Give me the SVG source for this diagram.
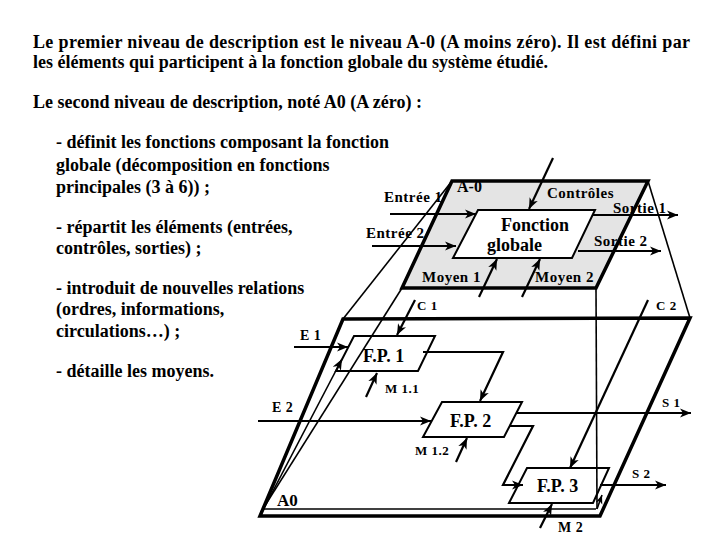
<svg xmlns="http://www.w3.org/2000/svg" width="720" height="540" viewBox="0 0 720 540">
<style>
.t{font-family:"Liberation Serif","Times New Roman",serif;font-weight:bold;fill:#000}
.p{font-size:18px}
.b{font-size:18px}
.l{font-size:15px;letter-spacing:0.5px}
.s{font-size:13px;letter-spacing:0.5px}
.c{fill:none;stroke:#000;stroke-width:2.2}
.thin{fill:none;stroke:#000;stroke-width:1.6}
.thick{stroke:#000;stroke-width:3.5;stroke-linejoin:miter}
</style>
<defs>
<marker id="ar" markerUnits="userSpaceOnUse" markerWidth="12" markerHeight="10" refX="11" refY="5" orient="auto">
<path d="M0,0.5 L11,5 L0,9.5 L3,5 z" fill="#000"/>
</marker>
<marker id="ars" markerUnits="userSpaceOnUse" markerWidth="10" markerHeight="8" refX="9" refY="4" orient="auto">
<path d="M0,0.5 L9,4 L0,7.5 L2.5,4 z" fill="#000"/>
</marker>
</defs>
<rect width="720" height="540" fill="#fff"/>
<g id="texte">
<text class="t p" x="33" y="48" textLength="657" lengthAdjust="spacing">Le premier niveau de description est le niveau A-0 (A moins zéro). Il est défini par</text>
<text class="t p" x="33" y="68" textLength="515" lengthAdjust="spacing">les éléments qui participent à la fonction globale du système étudié.</text>
<text class="t p" x="33" y="108" textLength="389" lengthAdjust="spacing">Le second niveau de description, noté A0 (A zéro) :</text>
<text class="t b" x="56" y="148">- définit les fonctions composant la fonction</text>
<text class="t b" x="56" y="171">globale (décomposition en fonctions</text>
<text class="t b" x="56" y="193">principales (3 à 6)) ;</text>
<text class="t b" x="56" y="233">- répartit les éléments (entrées,</text>
<text class="t b" x="56" y="254">contrôles, sorties) ;</text>
<text class="t b" x="56" y="294">- introduit de nouvelles relations</text>
<text class="t b" x="56" y="315">(ordres, informations,</text>
<text class="t b" x="56" y="337">circulations…) ;</text>
<text class="t b" x="56" y="377">- détaille les moyens.</text>
</g>
<g id="A-0">
<polygon class="thick" points="452,181 648,181 596,288 402,288" fill="#e4e4e4"/>
<text class="t" style="font-size:16px" x="457" y="192">A-0</text>
</g>
<g id="fonction-globale">
<polygon points="478,210 595,210 572,258 453,258" fill="#fff" stroke="#000" stroke-width="2"/>
<text class="t b" x="501" y="231">Fonction</text>
<text class="t b" x="487" y="251">globale</text>
</g>
<g id="A0">
<polygon class="thick" points="343,319 690,318 600,516 260,516" fill="none"/>
<polyline class="thin" points="262,509 596,509"/>
<text class="t" style="font-size:17px" x="277" y="506">A0</text>
</g>
<g id="FP1">
<polygon points="354,336 435,336 418,371 336,371" fill="#fff" stroke="#000" stroke-width="2"/>
<text class="t b" x="363" y="362">F.P. 1</text>
</g>
<g id="FP2">
<polygon points="442,402 522,402 504,437 423,437" fill="#fff" stroke="#000" stroke-width="2"/>
<text class="t b" x="450" y="427">F.P. 2</text>
</g>
<g id="FP3">
<polygon points="527,468 609,468 593,503 509,503" fill="#fff" stroke="#000" stroke-width="2"/>
<text class="t b" x="537" y="492">F.P. 3</text>
</g>
<g id="connecteurs">
<line class="thin" x1="452" y1="181" x2="343" y2="319"/>
<line class="thin" x1="648" y1="181" x2="690" y2="318"/>
<line class="thin" x1="596" y1="288" x2="597" y2="509"/>
<line class="thin" x1="402" y1="288" x2="261" y2="512"/>
<line class="c" x1="390" y1="214" x2="476" y2="214" marker-end="url(#ar)"/>
<line class="c" x1="372" y1="246" x2="456" y2="246" marker-end="url(#ar)"/>
<line class="c" x1="553" y1="158" x2="529" y2="209" marker-end="url(#ar)"/>
<line class="c" x1="592" y1="215" x2="678" y2="215" marker-end="url(#ar)"/>
<line class="c" x1="578" y1="251" x2="661" y2="251" marker-end="url(#ar)"/>
<line class="c" x1="479" y1="297" x2="497" y2="259" marker-end="url(#ar)"/>
<line class="c" x1="522" y1="297" x2="540" y2="259" marker-end="url(#ar)"/>
<line class="c" x1="415" y1="300" x2="397" y2="335" marker-end="url(#ar)"/>
<line class="c" x1="294" y1="347" x2="348" y2="347" marker-end="url(#ar)"/>
<line class="thin" x1="263" y1="510" x2="342" y2="359" marker-end="url(#ar)"/>
<line class="thin" x1="597" y1="509" x2="602" y2="495" marker-end="url(#ars)"/>
<polyline class="c" points="423,352 503,352 480,401" marker-end="url(#ar)"/>
<line class="c" x1="366" y1="397" x2="377" y2="373" marker-end="url(#ar)"/>
<line class="c" x1="258" y1="421" x2="431" y2="421" marker-end="url(#ar)"/>
<line class="c" x1="516" y1="413" x2="691" y2="413" marker-end="url(#ar)"/>
<line class="c" x1="456" y1="462" x2="467" y2="438" marker-end="url(#ar)"/>
<polyline class="c" points="510,426 533,426 503,485 523,485" marker-end="url(#ar)"/>
<line class="c" x1="648" y1="300" x2="570" y2="468" marker-end="url(#ar)"/>
<line class="c" x1="600" y1="485" x2="666" y2="485" marker-end="url(#ar)"/>
<line class="c" x1="540" y1="528" x2="552" y2="504" marker-end="url(#ar)"/>
</g>
<g id="etiquettes">
<text class="t l" x="384" y="202">Entrée 1</text>
<text class="t l" x="547" y="198">Contrôles</text>
<text class="t l" x="613" y="213">Sortie 1</text>
<text class="t l" x="366" y="238">Entrée 2</text>
<text class="t l" x="594" y="246">Sortie 2</text>
<text class="t l" x="422" y="282">Moyen 1</text>
<text class="t l" x="535" y="282">Moyen 2</text>
<text class="t s" x="417" y="310">C 1</text>
<text class="t s" x="656" y="310">C 2</text>
<text class="t s" style="font-size:14px" x="300" y="340">E 1</text>
<text class="t s" x="385" y="393">M 1.1</text>
<text class="t s" x="662" y="407">S 1</text>
<text class="t s" style="font-size:14px" x="272" y="412">E 2</text>
<text class="t s" x="415" y="455">M 1.2</text>
<text class="t s" x="632" y="478">S 2</text>
<text class="t s" style="font-size:14px" x="558" y="532">M 2</text>
</g>
</svg>
